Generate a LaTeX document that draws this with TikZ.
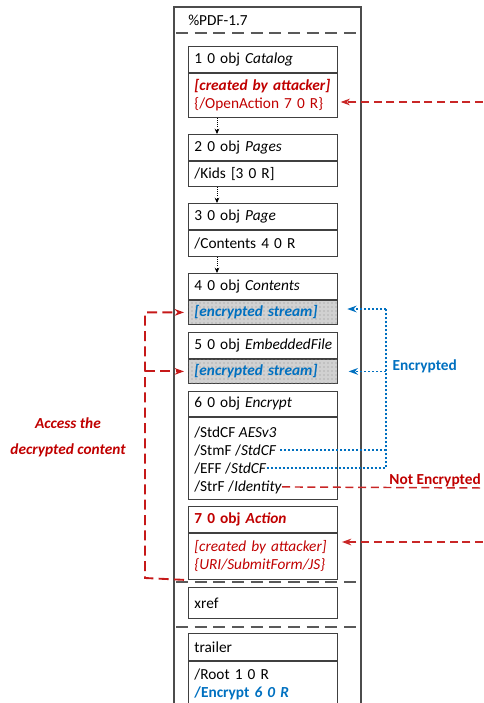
\documentclass[tikz,border=0pt]{standalone}
\usepackage{fontspec}
\setmainfont{Carlito}
\usetikzlibrary{arrows.meta,patterns}
\definecolor{attack}{HTML}{C00000}
\definecolor{crypt}{HTML}{0070C0}

\tikzset{
  objhead/.style={draw=black!75, line width=0.7pt, anchor=north west, minimum height=19.5pt,
    text width=102.75pt, inner xsep=4.5pt, inner ysep=0pt, align=left,
    font=\fontsize{11.5}{13.5}\selectfont},
  streambody/.style={objhead, fill=black!18, postaction={pattern=dots, pattern color=black!45}},
  entry/.style={anchor=base west, inner sep=0pt, font=\fontsize{11.5}{13.5}\selectfont},
  sep/.style={black!65, line width=0.8pt, dash pattern=on 9pt off 5pt},
  flow/.style={densely dotted, line width=0.6pt, -{Stealth[length=4pt,width=3.5pt]}},
  attackline/.style={attack!85, line width=1.1pt, dash pattern=on 6pt off 3.5pt},
  accessline/.style={attack!90, line width=1.4pt, dash pattern=on 7.5pt off 4pt},
  cryptline/.style={crypt, line width=1.2pt, dash pattern=on 1.5pt off 1.5pt},
  tip/.style={-{Stealth[length=7pt,width=5pt]}}
}

\begin{document}
\begin{tikzpicture}[x=0.75pt,y=-0.75pt]
  \useasboundingbox (0,0) rectangle (483,703);

  % file frame
  \draw[black!70, line width=0.8pt] (174,703) -- (174,7) -- (361,7) -- (361,703);
  \node[entry] (hdr) at (188,25) {\%PDF-1.7};
  \draw[sep] (176,33) -- (358,33);
  \draw[sep] (176,582) -- (358,582);
  \draw[sep] (176,627) -- (358,627);

  % objects
  \node[objhead] (o1h) at (188,46) {1 0 obj \textit{Catalog}};
  \node[objhead, minimum height=33pt, text=attack] (o1b) at (o1h.south west)
    {\textbf{\textit{[created by attacker]}}\\\{/OpenAction 7 0 R\}};

  \node[objhead] (o2h) at (188,134) {2 0 obj \textit{Pages}};
  \node[objhead, minimum height=18.75pt] (o2b) at (o2h.south west) {/Kids [3 0 R]};

  \node[objhead] (o3h) at (188,203) {3 0 obj \textit{Page}};
  \node[objhead] (o3b) at (o3h.south west) {/Contents 4 0 R};

  \node[objhead] (o4h) at (188,273) {4 0 obj \textit{Contents}};
  \node[streambody, minimum height=18pt, text=crypt] (o4b) at (o4h.south west)
    {\textbf{\textit{[encrypted stream]}}};

  \node[objhead] (o5h) at (188,332) {\mbox{5 0 obj \textit{EmbeddedFile}}};
  \node[streambody, minimum height=18pt, text=crypt] (o5b) at (o5h.south west)
    {\textbf{\textit{[encrypted stream]}}};

  \node[objhead, minimum height=18.75pt] (o6h) at (188,391) {6 0 obj \textit{Encrypt}};
  \node[objhead, minimum height=61.5pt] (o6b) at (o6h.south west) {};
  \node[entry] (stdcf) at (194,437) {/StdCF \textit{AESv3}};
  \node[entry] (stmf) at (194,455) {/StmF /\textit{StdCF}};
  \node[entry] (eff) at (194,473) {/EFF /\textit{StdCF}};
  \node[entry] (strf) at (194,491) {/StrF /\textit{Identity}};

  \node[objhead, text=attack] (o7h) at (188,506) {\textbf{7 0 obj \textit{Action}}};
  \node[objhead, minimum height=34.5pt, text=attack] (o7b) at (o7h.south west)
    {\textit{[created by attacker]}\\\textit{\{URI/SubmitForm/JS\}}};

  \node[objhead, minimum height=23.25pt] (xref) at (188,587) {xref};

  \node[objhead, minimum height=20.25pt] (trh) at (188,633) {trailer};
  \node[objhead, minimum height=34.5pt] (trb) at (trh.south west)
    {/Root 1 0 R\\\textcolor{crypt}{\textbf{/Encrypt \textit{6 0 R}}}};

  % references between objects
  \draw[flow] ([xshift=21.75pt]o1b.south west) -- ([xshift=21.75pt]o2h.north west);
  \draw[flow] ([xshift=21.75pt]o2b.south west) -- ([xshift=21.75pt]o3h.north west);
  \draw[flow] ([xshift=21.75pt]o3b.south west) -- ([xshift=21.75pt]o4h.north west);

  % injected by the attacker
  \coordinate (inj1) at (483,102);
  \coordinate (inj7) at (483,542);
  \draw[attackline, tip, shorten >=2pt] (inj1) -- (inj1 -| o1b.east);
  \draw[attackline, tip, shorten >=3pt] (inj7) -- (inj7 -| o7b.east);

  % crypt filters
  \coordinate (bus) at (386,309);
  \draw[cryptline] (stmf.east) ++(3pt,0) -- (stmf.east -| bus);
  \draw[cryptline] (eff.east) -| (bus);
  \draw[cryptline, tip, shorten >=7pt] (bus) -- (bus -| o4b.east);
  \draw[cryptline, tip, shorten >=8pt] (bus |- o5b.west) -- (o5b.east);
  \node[anchor=west, text=crypt, font=\fontsize{11.5}{13.5}\selectfont\bfseries] (enc) at (388,366) {Encrypted};

  \coordinate (plain) at (483,488);
  \draw[attackline] (strf.east) -- (plain);
  \node[anchor=base east, text=attack, font=\fontsize{11.5}{13.5}\selectfont\bfseries, inner sep=0pt] (noenc) at (481,484) {Not Encrypted};

  % exfiltration path
  \coordinate (acc) at (145,578);
  \draw[accessline, tip, shorten >=3pt] ([xshift=-3pt]o7b.south west) -- (acc) |- (o4b.west);
  \draw[accessline, tip, shorten >=3pt] (acc |- o5b.west) -- (o5b.west);
  \node[align=center, text=attack, font=\fontsize{11.5}{19.5}\selectfont\bfseries\itshape] (access) at (68,437)
    {Access the\\decrypted content};
\end{tikzpicture}
\end{document}
